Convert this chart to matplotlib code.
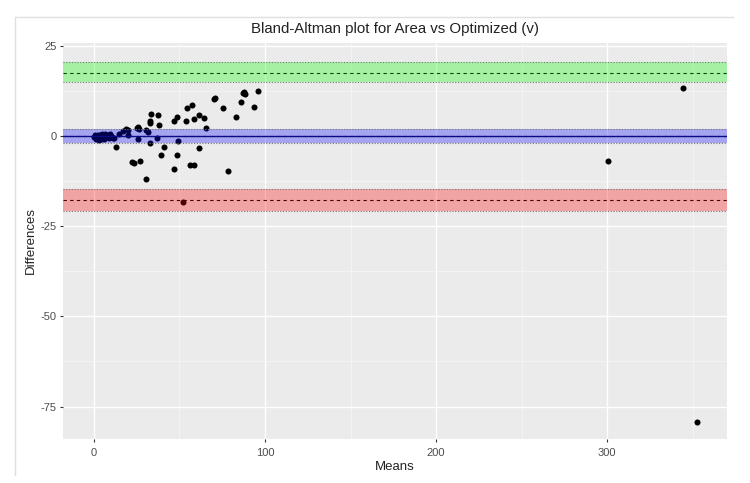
import matplotlib.pyplot as plt
from matplotlib.lines import Line2D

plt.rcParams['font.family'] = ['Liberation Sans', 'DejaVu Sans']
plt.rcParams['axes.unicode_minus'] = False

# data
means = [0.3, 0.8, 1.2, 1.6, 2.0, 2.4, 2.9, 3.3, 3.8, 4.2, 4.7, 5.1, 5.6, 6.2,
         6.8, 7.4, 8.1, 8.8, 9.5, 10.3, 11.0, 11.7,
         13.0, 14.6, 17.3, 18.8, 20.2, 20.0, 22.6, 23.6, 25.0, 26.0, 26.6, 25.8,
         26.9, 30.4, 31.4, 30.6, 32.6, 32.6, 32.6, 33.3, 37.0, 37.8, 38.0, 39.2,
         41.1, 46.8, 47.0, 48.9, 48.9, 49.3, 52.2, 53.8, 54.4, 56.1, 57.5, 58.5,
         58.5, 61.2, 61.6, 64.5, 65.5, 70.0, 70.6, 75.4, 78.5, 82.8, 86.1, 87.4,
         88.0, 88.6, 93.9, 95.9, 300.6, 344.0, 352.2]
diffs = [-0.3, 0.2, -0.8, 0.1, -0.5, 0.4, -1.0, -0.2, 0.3, -0.7, 0.5, -0.4, 0.1, -0.9,
         0.6, -0.3, 0.2, -0.6, 0.7, 0.0, -0.5, -0.5,
         -3.1, 0.7, 1.5, 1.9, 1.8, 0.2, -7.1, -7.4, 2.3, 2.4, 2.0, -0.7,
         -6.8, 1.6, 1.0, -12.0, -2.0, 4.2, 3.7, 6.0, -0.6, 5.7, 3.2, -5.2,
         -3.1, 4.2, -9.2, 5.2, -5.2, -1.3, -18.2, 4.1, 7.8, -7.9, 8.6, 4.6,
         -7.9, 5.7, -3.4, 5.1, 2.3, 10.4, 10.6, 7.8, -9.7, 5.2, 9.4, 11.8,
         12.1, 11.7, 8.0, 12.6, -6.8, 13.2, -79.2]

bias = 0.1
bias_ci = (-1.8, 1.9)
upper_loa = 17.6
upper_ci = (15.0, 20.6)
lower_loa = -17.6
lower_ci = (-20.8, -14.6)

x_ticks = [0, 100, 200, 300]
y_ticks = [-75, -50, -25, 0, 25]

fig = plt.figure(figsize=(7.5, 4.83), dpi=100)
fig.patch.set_facecolor('white')

# faint frame of the screenshot
fig.add_artist(Line2D([15/750, 733/750], [1-17/483, 1-17/483], color='#e0e0e0', lw=1))
fig.add_artist(Line2D([15/750, 15/750], [1-17/483, 1-475/483], color='#e0e0e0', lw=1))

ax = fig.add_axes([63/750, 1-439/483, 664/750, 396/483])
ax.set_facecolor('#ebebeb')
for s in ax.spines.values():
    s.set_visible(False)

ax.set_xlim(-18.0, 370.0)
ax.set_ylim(-84, 25.8)
ax.set_xticks(x_ticks)
ax.set_yticks(y_ticks)
ax.set_xticks([50, 150, 250, 350], minor=True)
ax.set_yticks([-62.5, -37.5, -12.5, 12.5], minor=True)
ax.grid(which='major', color='white', lw=1.0)
ax.grid(which='minor', color='#f7f7f7', lw=0.5)
ax.set_axisbelow(True)
ax.tick_params(which='major', length=2.5, color='#333333', labelsize=8,
               labelcolor='#4d4d4d')
ax.tick_params(axis='x', pad=4)
ax.tick_params(axis='y', pad=2)
ax.tick_params(which='minor', length=0)

ax.scatter(means, diffs, s=19, color='black', zorder=3, linewidths=0)

# reference lines
for yv in (bias, upper_loa, lower_loa):
    ax.axhline(yv, color='black', ls=(0, (3, 3)), lw=0.8, zorder=4)
ax.axhline(bias, color='#10104a', lw=1.0, zorder=4)

# confidence bands on top, with dotted edges
for (lo, hi), c in ((bias_ci, 'blue'), (upper_ci, 'lime'), (lower_ci, 'red')):
    ax.axhspan(lo, hi, color=c, alpha=0.3, lw=0, zorder=5)
    for yv in (lo, hi):
        ax.axhline(yv, color='#777777', ls=(0, (1, 1.5)), lw=0.8, zorder=6)

ax.set_xlabel('Means', fontsize=9.5, color='#222222', labelpad=2)
ax.set_ylabel('Differences', fontsize=9.5, color='#222222', labelpad=3)
ax.set_title('Bland-Altman plot for Area vs Optimized (v)', fontsize=10.8,
             color='#222222', pad=7)

fig.savefig('out.png', dpi=100)
